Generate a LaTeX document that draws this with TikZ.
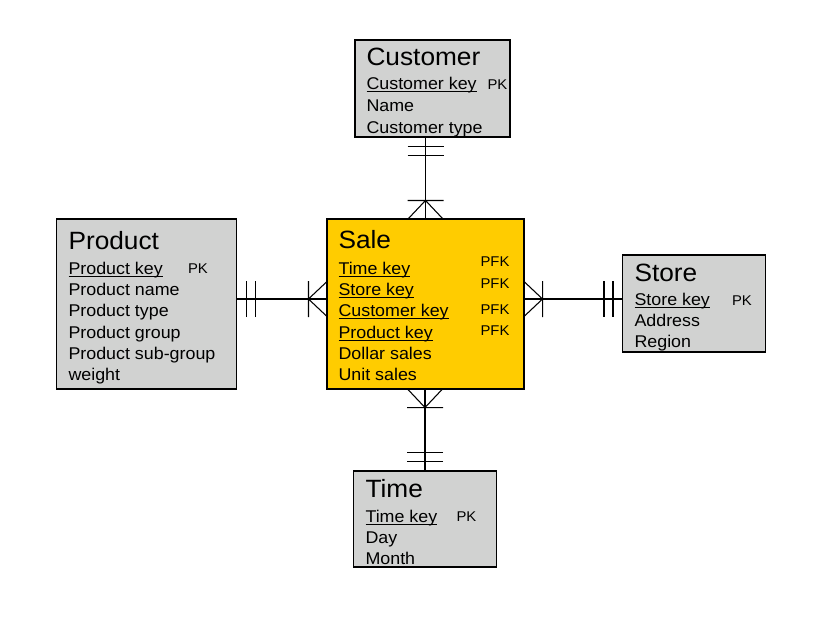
\documentclass[tikz,border=0pt]{standalone}
\usepackage{fontspec}
\setmainfont{Liberation Sans}[FakeStretch=1.05]
\usetikzlibrary{fit}
\usetikzlibrary{decorations.markings}
\definecolor{boxgray}{RGB}{209,210,209}
\definecolor{salegold}{RGB}{255,204,0}
\newcommand\keytext[1]{\setbox0\hbox{#1}\rlap{\rule[-1.8pt]{\wd0}{0.75pt}}\box0}
\tikzset{every picture/.style={line width=0.8pt},
  entity/.style={draw, fill=boxgray, inner sep=0pt},
  entitytitle/.style={anchor=base west, inner sep=0pt, font=\fontsize{18.75}{22}\selectfont},
  attr/.style={anchor=base west, inner sep=0pt, font=\fontsize{12.75}{15}\selectfont},
  keytag/.style={anchor=base west, inner sep=0pt, font=\fontsize{10.6}{12}\selectfont},
  tick/.style={line width=0.8pt},
  onetomany/.style={postaction={decorate}, decoration={markings,
    mark=at position 6.75pt with {\draw[tick] (0,-13.5pt) -- (0,13.5pt);},
    mark=at position 13.5pt with {\draw[tick] (0,-13.5pt) -- (0,13.5pt);},
    mark=at position -13.5pt with {\draw[tick] (0,-13.5pt) -- (0,13.5pt) (13.5pt,12.75pt) -- (0,0) -- (13.5pt,-12.75pt);}}}
}

\begin{document}
\begin{tikzpicture}[x=0.75pt, y=-0.75pt]
              \useasboundingbox (0,0) rectangle (840,642);
              % entities
              \node[entity, fit={(355,40) (510,137)}] (Customer) {};
              \node[entity, fit={(56.5,219) (236.5,389)}] (Product) {};
              \node[entity, fill=salegold, fit={(327,219) (524,389)}] (Sale) {};
              \node[entity, fit={(622.5,255) (765.5,352)}] (Store) {};
              \node[entity, fit={(353.5,471) (496.5,567)}] (Time) {};
              % Customer
              \node[entitytitle] (Customer-title) at (366,66) {Customer};
              \node[attr] (Customer-key) at (366,90) {\keytext{Customer key}};
              \node[keytag] (Customer-pk) at (487,90) {PK};
              \node[attr] (Customer-name) at (366,111.5) {Name};
              \node[attr] (Customer-type) at (366,133) {Customer type};
              % Product
              \node[entitytitle] (Product-title) at (68,249.5) {Product};
              \node[attr] (Product-key) at (68,274.3) {\keytext{Product key}};
              \node[keytag] (Product-pk) at (187.5,273.5) {PK};
              \foreach \txt [count=\i from 1] in {Product name, Product type, Product group, Product sub-group, weight}
                \node[attr] (Product-\i) at (68,{274.3+21.3*\i}) {\txt};
              % Sale
              \node[entitytitle] (Sale-title) at (338,248.5) {Sale};
              \foreach \txt/\pfk [count=\i from 0] in {Time key/266.7, Store key/288.3, Customer key/314, Product key/335}{
                \node[attr] (Sale-key\i) at (338,{274.3+21.3*\i}) {\keytext{\txt}};
                \node[keytag] (Sale-pfk\i) at (480,\pfk) {PFK};
              }
              \node[attr] (Sale-dollar) at (338,359.4) {Dollar sales};
              \node[attr] (Sale-unit) at (338,380.7) {Unit sales};
              % Store
              \node[entitytitle] (Store-title) at (634,281) {Store};
              \node[attr] (Store-key) at (634,305.7) {\keytext{Store key}};
              \node[keytag] (Store-pk) at (731.5,305.7) {PK};
              \node[attr] (Store-address) at (634,326.7) {Address};
              \node[attr] (Store-region) at (634,347.5) {Region};
              % Time
              \node[entitytitle] (Time-title) at (365,497) {Time};
              \node[attr] (Time-key) at (365,522.3) {\keytext{Time key}};
              \node[keytag] (Time-pk) at (456,521.5) {PK};
              \node[attr] (Time-day) at (365,543.3) {Day};
              \node[attr] (Time-month) at (365,564) {Month};
              % relationships
              \coordinate (midrow) at (0,299);
              \draw[onetomany] (Sale.north |- Customer.south) -- (Sale.north);
              \draw[onetomany] (Product.east |- midrow) -- (Sale.west |- midrow);
              \draw[onetomany] (Store.west |- midrow) -- (Sale.east |- midrow);
              \draw[onetomany] (Time.north) -- (Time.north |- Sale.south);
            \end{tikzpicture}
\end{document}
